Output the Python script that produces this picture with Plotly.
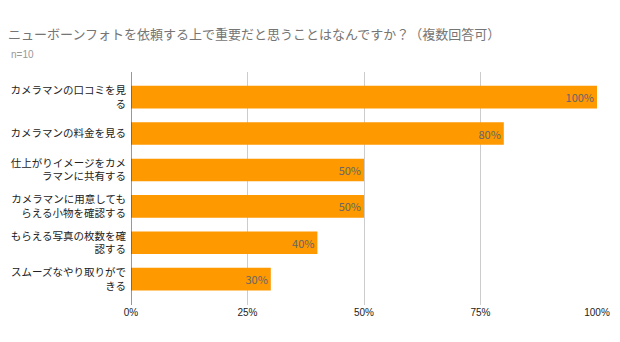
import plotly.graph_objects as go

categories = [
    "カメラマンの口コミを見<br>る",
    "カメラマンの料金を見る",
    "仕上がりイメージをカメ<br>ラマンに共有する",
    "カメラマンに用意しても<br>らえる小物を確認する",
    "もらえる写真の枚数を確<br>認する",
    "スムーズなやり取りがで<br>きる",
]
values = [100, 80, 50, 50, 40, 30]
tick_vals = [0, 25, 50, 75, 100]
tick_text = ["0%", "25%", "50%", "75%", "100%"]

FONT = "Noto Sans CJK JP, Liberation Sans, Arial, sans-serif"
TICKFONT = "Liberation Sans, Arial, sans-serif"

fig = go.Figure(go.Bar(
    x=values,
    y=categories,
    orientation="h",
    marker=dict(color="#FF9900", line=dict(width=0)),
    width=0.62,
    text=[f"{v}%" for v in values],
    textposition="inside",
    insidetextanchor="end",
    textfont=dict(family=FONT, size=11, color="#666666"),
    cliponaxis=False,
))

fig.update_layout(
    width=620, height=342,
    margin=dict(l=131, r=23, t=72, b=37),
    paper_bgcolor="white", plot_bgcolor="white",
    showlegend=False,
    font=dict(family=FONT, color="#222222"),
    title=dict(
        text="ニューボーンフォトを依頼する上で重要だと思うことはなんですか？（複数回答可）",
        x=0.013, xanchor="left", y=0.898, yanchor="middle",
        font=dict(family=FONT, size=13, color="#757575"),
    ),
    annotations=[dict(
        text="n=10", xref="paper", yref="paper", x=-0.262, y=1.073,
        xanchor="left", yanchor="middle", showarrow=False,
        font=dict(family=TICKFONT, size=10, color="#999999"),
    )],
)
fig.update_xaxes(
    range=[0, 100], tickvals=tick_vals, ticktext=tick_text,
    showgrid=True, gridcolor="#CCCCCC", gridwidth=1,
    zeroline=False, showline=False, automargin=False,
    tickfont=dict(family=TICKFONT, size=10, color="#222222"),
    ticks="", ticklen=0,
)
fig.update_yaxes(
    type="category", range=[5.71, -0.69],
    showgrid=False, zeroline=False, showline=False, automargin=False,
    ticks="", ticklabelstandoff=4,
    tickfont=dict(family=FONT, size=10.5, color="#222222"),
)
fig.add_shape(type="line", xref="x", yref="paper", x0=0, x1=0, y0=0, y1=1,
              line=dict(color="#333333", width=1))

fig.write_html("out.html")
